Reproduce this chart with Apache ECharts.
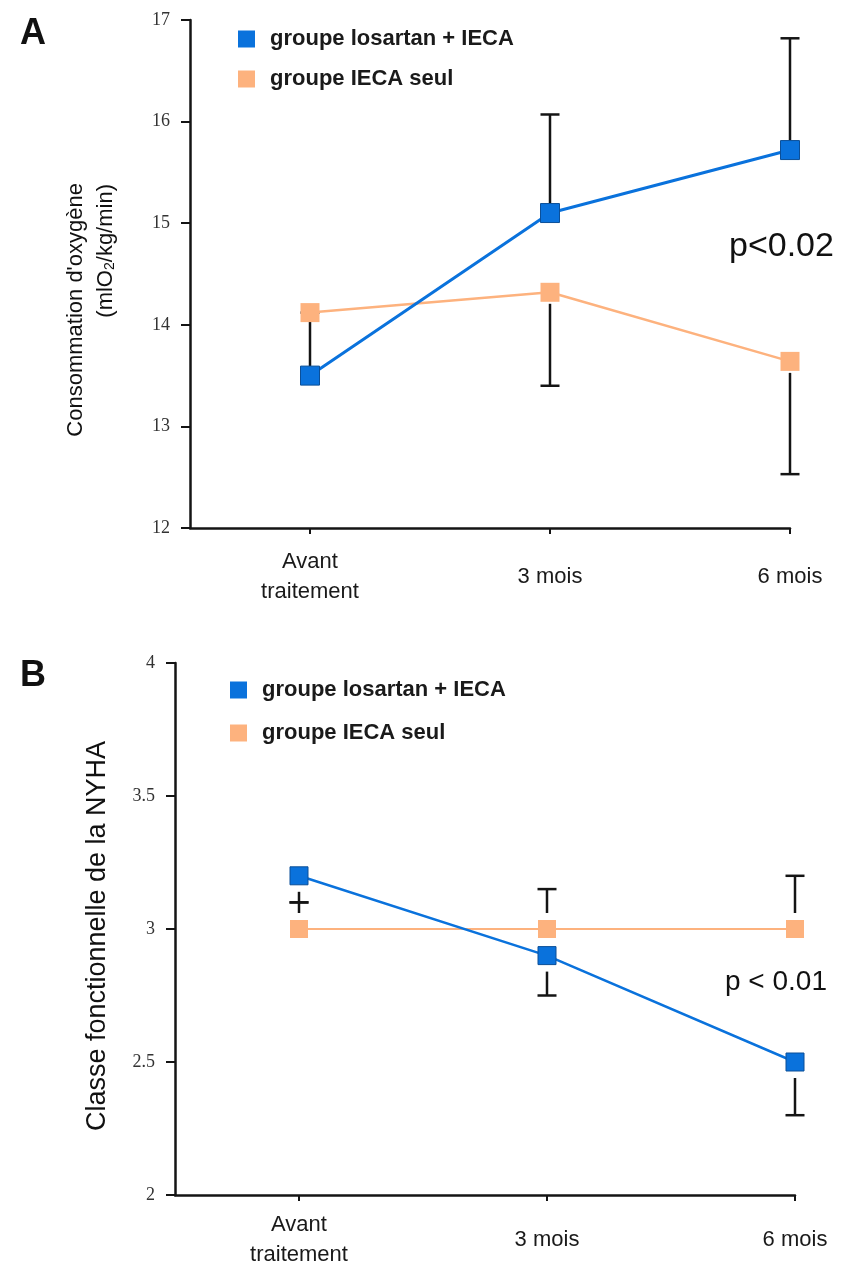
<!DOCTYPE html>
<html>
<head>
<meta charset="utf-8">
<script src="https://cdn.jsdelivr.net/npm/echarts@6/dist/echarts.min.js"></script>
<style>
html,body{margin:0;padding:0;background:#fff;}
#chart{width:841px;height:1272px;}
</style>
</head>
<body>
<div id="chart"></div>
<script>
// ---- data ----
var categories = ['Avant\ntraitement', '3 mois', '6 mois'];
var seriesNames = ['groupe losartan + IECA', 'groupe IECA seul'];

// Panel A : Consommation d'oxygène
var A_ticks = [12, 13, 14, 15, 16, 17];
var A_losartan = [13.5, 15.1, 15.72];
var A_ieca = [14.12, 14.32, 13.64];
var A_losartanErrEnd = [14.12, 16.07, 16.82];
var A_iecaErrEnd = [null, 13.4, 12.53];
var A_pText = 'p<0.02';
var A_title1 = "Consommation d'oxygène";
var A_title2 = '(mlO{sub|2}/kg/min)';

// Panel B : Classe NYHA
var B_ticks = [2, 2.5, 3, 3.5, 4];
var B_losartan = [3.2, 2.9, 2.5];
var B_ieca = [3.0, 3.0, 3.0];
var B_losartanErrEnd = [3.1, 2.75, 2.3];
var B_iecaErrEnd = [3.1, 3.15, 3.2];
var B_pText = 'p < 0.01';
var B_title = 'Classe fonctionnelle de la NYHA';

var BLUE = '#0a72dc', ORANGE = '#fdb27e', INK = '#141414';
var SANS = '"Liberation Sans", Arial, sans-serif';

function pts(vals) { return vals.map(function (v, i) { return [i, v]; }); }
function errData(center, ends) {
  var out = [];
  ends.forEach(function (e, i) { if (e !== null) out.push([i, center[i], e]); });
  return out;
}
function errRender(half, gap, capHalf) {
  return function (params, api) {
    var x = api.value(0), from = api.value(1), to = api.value(2);
    var p0 = api.coord([x, from]), p1 = api.coord([x, to]);
    var dir = p1[1] < p0[1] ? -1 : 1;
    var sy = p0[1] + dir * (half + gap);
    var st = { stroke: INK, lineWidth: 2.5 };
    return {
      type: 'group',
      children: [
        { type: 'line', shape: { x1: p0[0], y1: sy, x2: p1[0], y2: p1[1] }, style: st },
        { type: 'line', shape: { x1: p1[0] - capHalf, y1: p1[1], x2: p1[0] + capHalf, y2: p1[1] }, style: st }
      ]
    };
  };
}

function xAxis(gi) {
  return {
    type: 'value', gridIndex: gi, min: -0.5, max: 2,
    axisLine: { show: true, onZero: false, lineStyle: { color: INK, width: 2.5 } },
    splitLine: { show: false },
    axisTick: { show: true, customValues: [0, 1, 2], length: 6, lineStyle: { color: INK, width: 2 } },
    axisLabel: {
      customValues: [0, 1, 2],
      formatter: function (v) { return categories[Math.round(v)]; },
      fontFamily: SANS, fontSize: 22, color: '#1a1a1a',
      lineHeight: 30, verticalAlign: 'middle', margin: gi === 0 ? 49 : 45
    }
  };
}
function yAxis(gi, min, max, interval) {
  return {
    type: 'value', gridIndex: gi, min: min, max: max, interval: interval,
    axisLine: { show: true, onZero: false, lineStyle: { color: INK, width: 2.5 } },
    splitLine: { show: false },
    axisTick: { show: true, length: 9, lineStyle: { color: INK, width: 2 } },
    axisLabel: { fontFamily: '"Liberation Serif", "Times New Roman", serif', fontSize: 18, color: '#333', margin: 20 }
  };
}
function legend(left, top, gap) {
  return {
    left: left, top: top, orient: 'vertical', itemWidth: 17, itemHeight: 17, itemGap: gap,
    icon: 'rect', data: seriesNames, itemStyle: { borderWidth: 0 },
    textStyle: { fontFamily: SANS, fontWeight: 'bold', fontSize: 22, lineHeight: 17, color: '#1a1a1a', padding: [0, 0, 0, 10] }
  };
}

var chart = echarts.init(document.getElementById('chart'), null, { renderer: 'canvas' });
var option = {
  animation: false,
  backgroundColor: '#fff',
  grid: [
    { left: 190, top: 20, width: 600, height: 508 },
    { left: 175, top: 663, width: 620, height: 532 }
  ],
  xAxis: [xAxis(0), xAxis(1)],
  yAxis: [yAxis(0, 12, 17, 1), yAxis(1, 2, 4, 0.5)],
  legend: [legend(233, 23, 18), legend(225, 674, 21)],
  graphic: [
    { type: 'text', left: 20, top: 16, style: { text: 'A', font: 'bold 36px ' + SANS, fill: '#111' } },
    { type: 'text', left: 20, top: 658, style: { text: 'B', font: 'bold 36px ' + SANS, fill: '#111' } },
    { type: 'text', left: 729, top: 230, style: { text: A_pText, font: '34px ' + SANS, fill: '#111' } },
    { type: 'text', left: 725, top: 968, style: { text: B_pText, font: '28px ' + SANS, fill: '#111' } },
    { type: 'text', x: 76, y: 183, rotation: Math.PI / 2,
      style: { text: A_title1, font: '22px ' + SANS, fill: '#111', align: 'right', verticalAlign: 'middle' } },
    { type: 'text', x: 106, y: 184, rotation: Math.PI / 2,
      style: { text: A_title2, font: '22px ' + SANS, fill: '#111', align: 'right', verticalAlign: 'middle',
        rich: { sub: { fontSize: 14, fontFamily: 'Liberation Sans', fill: '#111', padding: [9, 0, 0, 0] } } } },
    { type: 'text', x: 98, y: 936, rotation: Math.PI / 2,
      style: { text: B_title, font: '27px ' + SANS, fill: '#111', align: 'center', verticalAlign: 'middle' } }
  ],
  series: [
    { type: 'custom', xAxisIndex: 0, yAxisIndex: 0, z: 1, renderItem: errRender(9.5, 0, 9.5), data: errData(A_losartan, A_losartanErrEnd), silent: true },
    { type: 'custom', xAxisIndex: 0, yAxisIndex: 0, z: 1, renderItem: errRender(9.5, 2, 9.5), data: errData(A_ieca, A_iecaErrEnd), silent: true },
    { type: 'custom', xAxisIndex: 1, yAxisIndex: 1, z: 1, renderItem: errRender(9, 7, 9.5), data: errData(B_losartan, B_losartanErrEnd), silent: true },
    { type: 'custom', xAxisIndex: 1, yAxisIndex: 1, z: 1, renderItem: errRender(9, 7, 9.5), data: errData(B_ieca, B_iecaErrEnd), silent: true },
    {
      name: seriesNames[1], type: 'line', xAxisIndex: 0, yAxisIndex: 0, z: 3, data: pts(A_ieca),
      symbol: 'rect', symbolSize: 19, lineStyle: { color: ORANGE, width: 2.5 },
      itemStyle: { color: ORANGE, borderWidth: 0 }
    },
    {
      name: seriesNames[0], type: 'line', xAxisIndex: 0, yAxisIndex: 0, z: 4, data: pts(A_losartan),
      symbol: 'rect', symbolSize: 19, lineStyle: { color: BLUE, width: 3 },
      itemStyle: { color: BLUE, borderColor: '#0b4f98', borderWidth: 1 }
    },
    {
      name: seriesNames[1], type: 'line', xAxisIndex: 1, yAxisIndex: 1, z: 3, data: pts(B_ieca),
      symbol: 'rect', symbolSize: 18, lineStyle: { color: ORANGE, width: 2 },
      itemStyle: { color: ORANGE, borderWidth: 0 }
    },
    {
      name: seriesNames[0], type: 'line', xAxisIndex: 1, yAxisIndex: 1, z: 4, data: pts(B_losartan),
      symbol: 'rect', symbolSize: 18, lineStyle: { color: BLUE, width: 2.5 },
      itemStyle: { color: BLUE, borderColor: '#0b4f98', borderWidth: 1 }
    }
  ]
};
chart.setOption(option);
</script>
</body>
</html>
